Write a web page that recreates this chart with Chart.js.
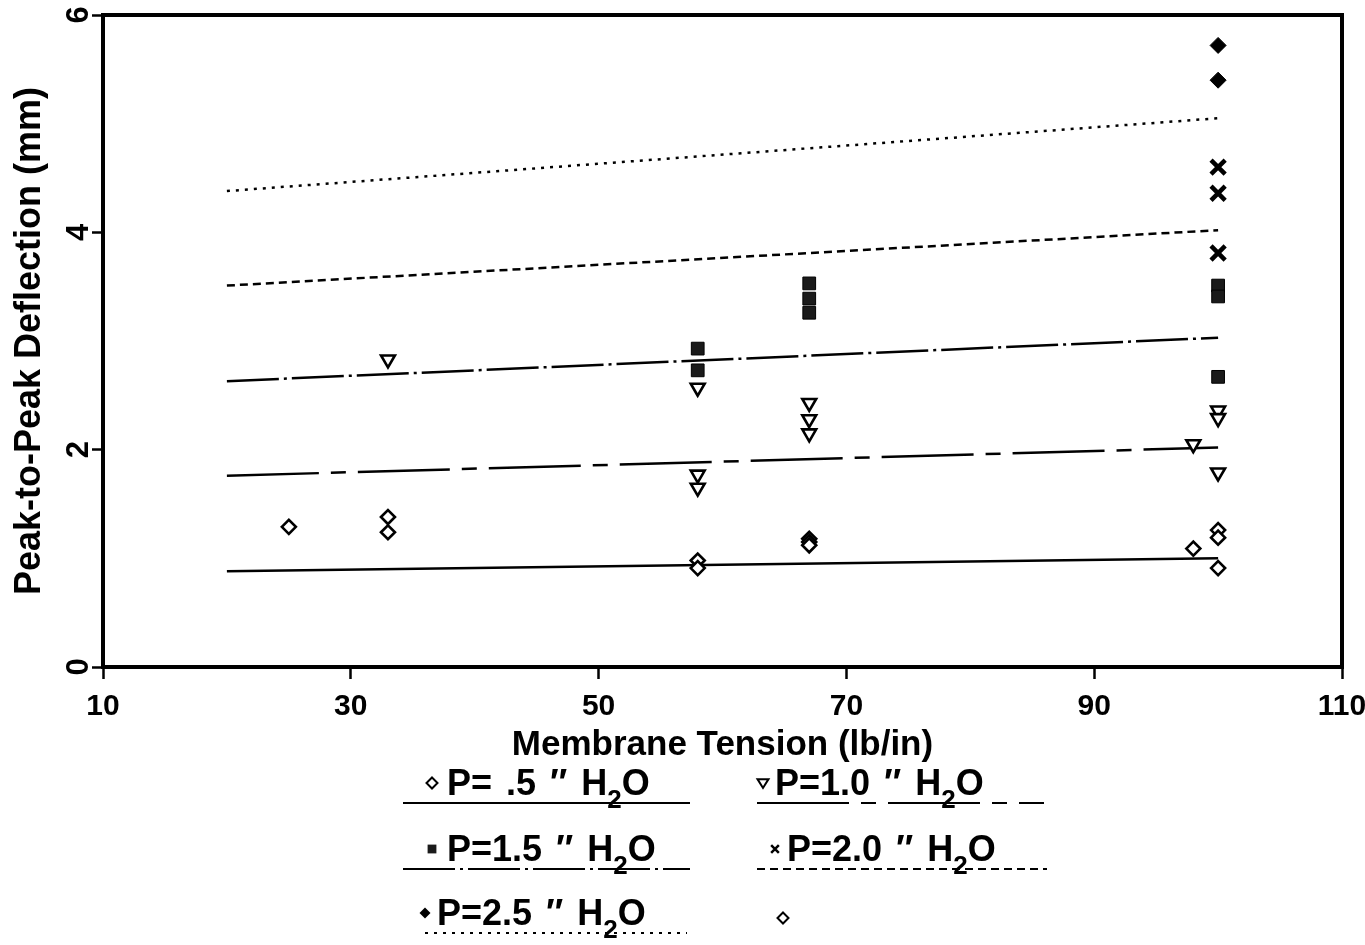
<!DOCTYPE html>
<html>
<head>
<meta charset="utf-8">
<script src="https://cdn.jsdelivr.net/npm/chart.js@4/dist/chart.umd.min.js"></script>
<style>
  body { margin: 0; background: #fff; }
  #wrap { position: relative; width: 1365px; height: 945px; }
  #wrap canvas { position: absolute; left: 0; top: 0; }
  .leg { position: absolute; height: 46px; font: bold 36px "Liberation Sans", Arial, sans-serif; color: #000; }
  .leg .txt { position: absolute; top: 0; height: 40px; line-height: 40px; white-space: nowrap; word-spacing: 4px; }
  .leg sub { font-size: 26px; line-height: 0; vertical-align: -13px; }
  .leg svg { position: absolute; overflow: visible; }
</style>
</head>
<body>
<div id="wrap">
  <canvas id="grafico" width="1365" height="945"></canvas>
</div>
<script>
// deflexion de membrana vs tension, 5 presiones
const pressureLabels = ['.5', '1.0', '1.5', '2.0', '2.5'];

// P = .5 " H2O
const tension05 = [25, 33, 33, 58, 58, 67, 67, 67, 98, 100, 100, 100];
const deflect05 = [1.29, 1.38, 1.24, 0.98, 0.91, 1.18, 1.15, 1.12, 1.09, 0.91, 1.26, 1.19];
// P = 1.0
const tension10 = [33, 58, 58, 58, 67, 67, 67, 98, 100, 100, 100];
const deflect10 = [2.83, 2.57, 1.77, 1.65, 2.43, 2.28, 2.15, 2.05, 2.36, 2.29, 1.79];
// P = 1.5
const tension15 = [58, 58, 67, 67, 67, 100, 100, 100];
const deflect15 = [2.93, 2.73, 3.53, 3.39, 3.26, 3.51, 3.41, 2.67];
// P = 2.0
const tension20 = [100, 100, 100];
const deflect20 = [4.60, 4.36, 3.81];
// P = 2.5
const tension25 = [100, 100];
const deflect25 = [5.72, 5.40];

// rectas ajustadas, de 20 a 100 lb/in
const fitTension = [20, 100];
const fit05 = [0.88, 1.00];
const fit10 = [1.76, 2.02];
const fit15 = [2.63, 3.03];
const fit20 = [3.51, 4.02];
const fit25 = [4.38, 5.05];

const xTicks = [10, 30, 50, 70, 90, 110];
const yTicks = [0, 2, 4, 6];

function pts(xs, ys) {
    return xs.map((x, i) => ({ x: x, y: ys[i] }))
}

const seriesX = [tension05, tension10, tension15, tension20, tension25];
const seriesY = [deflect05, deflect10, deflect15, deflect20, deflect25];
const fits = [fit05, fit10, fit15, fit20, fit25];

// estilos
const markers = [
    { pointStyle: 'rectRot', pointRadius: 7, pointBackgroundColor: '#fff', pointBorderWidth: 2.6, rotation: 0 },
    { pointStyle: 'triangle', pointRadius: 8, pointBackgroundColor: '#fff', pointBorderWidth: 2.6, rotation: 180 },
    { pointStyle: 'rect', pointRadius: 9, pointBackgroundColor: '#1a1a1a', pointBorderWidth: 1, rotation: 0 },
    { pointStyle: 'crossRot', pointRadius: 10, pointBackgroundColor: '#000', pointBorderWidth: 4.5, rotation: 0 },
    { pointStyle: 'rectRot', pointRadius: 8, pointBackgroundColor: '#000', pointBorderWidth: 1, rotation: 0 }
];
const dashes = [[], [92, 12, 15, 12], [52, 5, 3, 5], [8, 5], [3, 6]];

const datasets = [];
for (let i = 0; i < seriesX.length; i++) {
    datasets.push({
        label: 'P=' + pressureLabels[i],
        data: pts(seriesX[i], seriesY[i]),
        showLine: false,
        pointStyle: markers[i].pointStyle,
        pointRadius: markers[i].pointRadius,
        pointBackgroundColor: markers[i].pointBackgroundColor,
        pointBorderColor: '#000',
        pointBorderWidth: markers[i].pointBorderWidth,
        pointRotation: markers[i].rotation
    })
}
for (let i = 0; i < fits.length; i++) {
    datasets.push({
        label: 'ajuste ' + pressureLabels[i],
        data: pts(fitTension, fits[i]),
        showLine: true,
        borderColor: '#000',
        borderWidth: 2.5,
        borderDash: dashes[i],
        pointRadius: 0
    })
}

// marco del grafico
const marco = {
    id: 'marco',
    afterDatasetsDraw(chart) {
        const a = chart.chartArea;
        const ctx = chart.ctx;
        ctx.save();
        ctx.strokeStyle = '#000';
        ctx.lineWidth = 4;
        ctx.strokeRect(a.left, a.top, a.right - a.left, a.bottom - a.top);
        ctx.restore();
    }
}

Chart.defaults.font.family = '"Liberation Sans", Arial, sans-serif';
Chart.defaults.font.weight = 'bold';
Chart.defaults.color = '#000';

const ctx = document.getElementById('grafico');
const myChart = new Chart(ctx, {
    type: 'scatter',
    data: { datasets: datasets },
    options: {
        responsive: false,
        animation: false,
        layout: { padding: { left: 0, right: 23, top: 15, bottom: 178 } },
        plugins: { legend: { display: false }, tooltip: { enabled: false } },
        scales: {
            x: {
                type: 'linear',
                min: 10, max: 110,
                afterBuildTicks: s => { s.ticks = xTicks.map(v => ({ value: v })) },
                afterFit: s => { s.height = 100; s.paddingLeft = 0; s.paddingRight = 0 },
                border: { display: false },
                grid: { drawOnChartArea: false, drawTicks: true, tickLength: 12, tickWidth: 2.5, tickColor: '#000' },
                ticks: { font: { size: 30, weight: 'bold' }, padding: 10, maxRotation: 0 },
                title: { display: true, text: 'Membrane Tension (lb/in)', font: { size: 35, weight: 'bold' }, padding: { top: 0, bottom: 1 } }
            },
            y: {
                min: 0, max: 6,
                afterBuildTicks: s => { s.ticks = yTicks.map(v => ({ value: v })) },
                afterFit: s => { s.width = 103; s.paddingTop = 0; s.paddingBottom = 0 },
                border: { display: false },
                grid: { drawOnChartArea: false, drawTicks: true, tickLength: 11, tickWidth: 2.5, tickColor: '#000' },
                ticks: { font: { size: 31, weight: 'bold' }, padding: 4, minRotation: 90, maxRotation: 90, crossAlign: 'center' },
                title: { display: true, text: 'Peak-to-Peak Deflection (mm)', font: { size: 36, weight: 'bold' }, padding: { top: 8, bottom: 0 } }
            }
        }
    },
    plugins: [marco]
})

// leyenda abajo, hecha a mano
const legendSlots = [
    { left: 403, top: 763, width: 287, mark: 29, text: 44 },
    { left: 757, top: 763, width: 287, mark: 6, text: 18 },
    { left: 403, top: 829, width: 287, mark: 29, text: 44 },
    { left: 757, top: 829, width: 290, mark: 18, text: 30 },
    { left: 425, top: 893, width: 262, mark: 0, text: 12 }
];

function markerSvg(i, size) {
    const h = size / 2;
    if (i == 0) return `<polygon points="0,${-h} ${h},0 0,${h} ${-h},0" fill="#fff" stroke="#000" stroke-width="2"/>`;
    if (i == 1) return `<polygon points="${-h},${-h * 0.7} ${h},${-h * 0.7} 0,${h * 0.9}" fill="#fff" stroke="#000" stroke-width="2"/>`;
    if (i == 2) return `<rect x="${-h * 0.8}" y="${-h * 0.8}" width="${h * 1.6}" height="${h * 1.6}" fill="#1a1a1a"/>`;
    if (i == 3) return `<path d="M${-h * 0.7},${-h * 0.7}L${h * 0.7},${h * 0.7}M${h * 0.7},${-h * 0.7}L${-h * 0.7},${h * 0.7}" stroke="#000" stroke-width="2.5"/>`;
    return `<polygon points="0,${-h} ${h},0 0,${h} ${-h},0" fill="#000"/>`;
}

const wrap = document.getElementById('wrap');
for (let i = 0; i < legendSlots.length; i++) {
    const s = legendSlots[i];
    const item = document.createElement('div');
    item.className = 'leg';
    item.style.left = s.left + 'px';
    item.style.top = s.top + 'px';
    item.style.width = s.width + 'px';
    const dash = datasets[seriesX.length + i].borderDash.join(' ');
    item.innerHTML =
        `<svg style="left:${s.mark}px;top:20px" width="1" height="1">${markerSvg(i, 11)}</svg>` +
        `<div class="txt" style="left:${s.text}px">P=${pressureLabels[i] == '.5' ? ' .5' : pressureLabels[i]} ″ H<sub>2</sub>O</div>` +
        `<svg style="left:0;top:40px" width="${s.width}" height="1"><line x1="0" y1="0" x2="${s.width}" y2="0" stroke="#000" stroke-width="2" stroke-dasharray="${dash}"/></svg>`;
    wrap.appendChild(item);
}
// rombo suelto al final
const suelto = document.createElement('div');
suelto.className = 'leg';
suelto.style.left = '783px';
suelto.style.top = '918px';
suelto.innerHTML = `<svg style="left:0;top:0" width="1" height="1">${markerSvg(0, 11)}</svg>`;
wrap.appendChild(suelto);
</script>
</body>
</html>
